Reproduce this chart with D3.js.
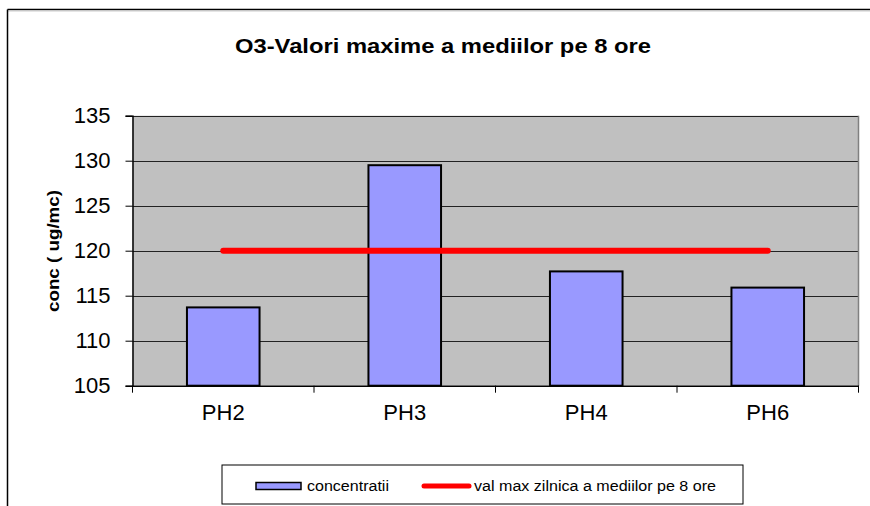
<!DOCTYPE html>
<html><head><meta charset="utf-8">
<script src="https://cdn.jsdelivr.net/npm/d3@7"></script>
<style>body{margin:0;background:#fff}svg{display:block;font-family:"Liberation Sans",Arial,sans-serif}</style>
</head><body><svg id="c" width="870" height="506"></svg>
<script>
const categories = ["PH2","PH3","PH4","PH6"];
const concentratii = [113.7, 129.5, 117.7, 115.9];
const limita = [120, 120, 120, 120];
const yTicks = [105,110,115,120,125,130,135];
const titleText = "O3-Valori maxime a mediilor pe 8 ore";
const yLabel = "conc ( ug/mc)";
const legendLabels = ["concentratii", "val max zilnica a mediilor pe 8 ore"];

const svg = d3.select("#c");
const m = {l:132.5, r:858.5, t:115.7, b:385.7};
const x = d3.scaleBand().domain(categories).range([m.l, m.r]).paddingInner(0.6).paddingOuter(0.3);
const xb = d3.scaleBand().domain(categories).range([m.l, m.r]);
const y = d3.scaleLinear().domain([105,135]).range([m.b, m.t]);

// outer frame
svg.append("line").attr("x1",7.5).attr("x2",870).attr("y1",9.5).attr("y2",9.5).attr("stroke","#000").attr("stroke-width",1.5);
svg.append("line").attr("x1",7.5).attr("x2",870).attr("y1",11).attr("y2",11).attr("stroke","#ccc").attr("stroke-width",1);
svg.append("line").attr("x1",7.5).attr("x2",7.5).attr("y1",9.5).attr("y2",506).attr("stroke","#000").attr("stroke-width",1.5);

// title
svg.append("text").attr("x",443).attr("y",53).attr("text-anchor","middle")
  .attr("font-size",20).attr("font-weight","bold").attr("textLength",416).attr("lengthAdjust","spacingAndGlyphs")
  .text(titleText);

// plot bg
svg.append("rect").attr("x",m.l).attr("y",m.t).attr("width",m.r-m.l).attr("height",m.b-m.t).attr("fill","#C0C0C0");

// gridlines
svg.append("g").selectAll("line").data(yTicks).join("line")
  .attr("x1",m.l).attr("x2",m.r).attr("y1",d=>Math.round(y(d))+0.5).attr("y2",d=>Math.round(y(d))+0.5)
  .attr("stroke","#222").attr("stroke-width",1);
// right border
svg.append("line").attr("x1",m.r).attr("x2",m.r).attr("y1",m.t).attr("y2",m.b).attr("stroke","#808080").attr("stroke-width",1.5);

// bars
svg.append("g").selectAll("rect").data(categories).join("rect")
  .attr("x",d=>x(d)).attr("width",x.bandwidth())
  .attr("y",(d,i)=>y(concentratii[i])).attr("height",(d,i)=>y(105)-y(concentratii[i]))
  .attr("fill","#9999FF").attr("stroke","#000").attr("stroke-width",2);

// limit line
const line = d3.line().x((d,i)=>xb(categories[i])+xb.bandwidth()/2).y(d=>y(d));
svg.append("path").datum(limita).attr("d",line).attr("fill","none")
  .attr("stroke","#FF0000").attr("stroke-width",6).attr("stroke-linecap","round");

// y axis
const ya = svg.append("g").attr("transform",`translate(${m.l},0)`)
  .call(d3.axisLeft(y).tickValues(yTicks).tickSize(7).tickPadding(15).tickFormat(d3.format("d")));
ya.select(".domain").attr("stroke","#000").attr("stroke-width",1.5);
ya.selectAll(".tick line").attr("stroke","#000");
ya.selectAll("text").attr("font-size",22).attr("fill","#000").attr("font-family","Liberation Sans, Arial, sans-serif");

// x axis
const xa = svg.append("g").attr("transform",`translate(0,${m.b})`)
  .call(d3.axisBottom(xb).tickSize(0).tickPadding(19));
xa.select(".domain").attr("stroke","#000").attr("stroke-width",1.5);
xa.selectAll("text").attr("font-size",22).attr("fill","#000").attr("font-family","Liberation Sans, Arial, sans-serif");
// boundary ticks
const bounds = categories.map(c=>xb(c)).concat([m.r]);
svg.append("g").selectAll("line").data(bounds).join("line")
  .attr("x1",d=>d).attr("x2",d=>d).attr("y1",m.b).attr("y2",m.b+7).attr("stroke","#000").attr("stroke-width",1);

// y label
svg.append("text").attr("transform","translate(59,251) rotate(-90)").attr("text-anchor","middle")
  .attr("font-size",16).attr("font-weight","bold").attr("textLength",122).attr("lengthAdjust","spacingAndGlyphs")
  .text(yLabel);

// legend
const lg = svg.append("g");
lg.append("rect").attr("x",222).attr("y",465).attr("width",521).attr("height",39).attr("fill","#fff").attr("stroke","#000").attr("stroke-width",1);
lg.append("rect").attr("x",256).attr("y",482.5).attr("width",45).attr("height",7).attr("fill","#9999FF").attr("stroke","#000").attr("stroke-width",1.5);
lg.append("text").attr("x",307).attr("y",491).attr("font-size",14).attr("textLength",82).attr("lengthAdjust","spacingAndGlyphs").text(legendLabels[0]);
lg.append("line").attr("x1",424).attr("x2",469).attr("y1",486).attr("y2",486).attr("stroke","#FF0000").attr("stroke-width",5).attr("stroke-linecap","round");
lg.append("text").attr("x",474).attr("y",491).attr("font-size",14).attr("textLength",242).attr("lengthAdjust","spacingAndGlyphs").text(legendLabels[1]);
</script></body></html>
